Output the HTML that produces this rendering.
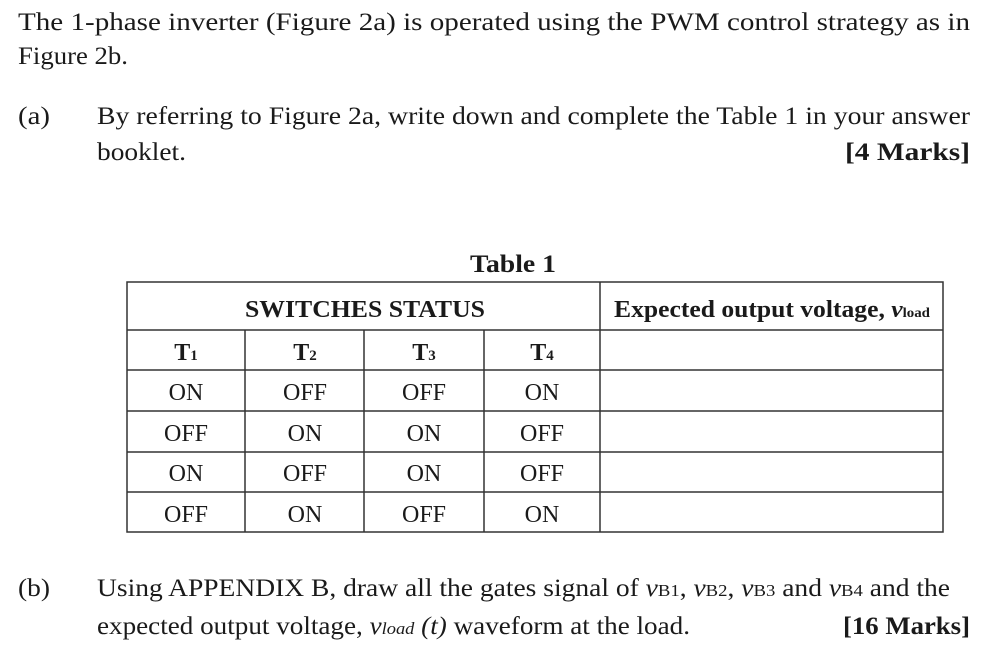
<!DOCTYPE html>
<html><head><meta charset="utf-8"><style>
html,body{margin:0;padding:0;background:#fff;}
svg{display:block;}
text{font-family:"Liberation Serif",serif;fill:#1a1a1a;}
.b{font-weight:bold;}
</style></head><body>
<svg width="982" height="658" viewBox="0 0 982 658" xmlns="http://www.w3.org/2000/svg">
<g font-size="25">
<text x="18" y="30" textLength="952" lengthAdjust="spacingAndGlyphs">The 1-phase inverter (Figure 2a) is operated using the PWM control strategy as in</text>
<text x="18" y="64" textLength="110" lengthAdjust="spacingAndGlyphs">Figure 2b.</text>
<text x="18" y="124" textLength="32" lengthAdjust="spacingAndGlyphs">(a)</text>
<text x="97" y="124" textLength="873" lengthAdjust="spacingAndGlyphs">By referring to Figure 2a, write down and complete the Table 1 in your answer</text>
<text x="97" y="160" textLength="89" lengthAdjust="spacingAndGlyphs">booklet.</text>
<text class="b" x="845" y="160" textLength="125" lengthAdjust="spacingAndGlyphs">[4 Marks]</text>
<text class="b" x="470" y="272" textLength="86" lengthAdjust="spacingAndGlyphs">Table 1</text>
<text x="18" y="596" textLength="32" lengthAdjust="spacingAndGlyphs">(b)</text>
<text x="97" y="596" textLength="853" lengthAdjust="spacingAndGlyphs">Using APPENDIX B, draw all the gates signal of <tspan font-style="italic">v</tspan><tspan font-size="17">B1</tspan>, <tspan font-style="italic">v</tspan><tspan font-size="17">B2</tspan>, <tspan font-style="italic">v</tspan><tspan font-size="17">B3</tspan> and <tspan font-style="italic">v</tspan><tspan font-size="17">B4</tspan> and the</text>
<text x="97" y="634" textLength="593" lengthAdjust="spacingAndGlyphs">expected output voltage, <tspan font-style="italic">v<tspan font-size="17">load</tspan> (t)</tspan> waveform at the load.</text>
<text class="b" x="843" y="634" textLength="127" lengthAdjust="spacingAndGlyphs">[16 Marks]</text>
</g>
<g stroke="#333" stroke-width="1.5" fill="none">
<rect x="127" y="282" width="816" height="250"/>
<line x1="127" y1="330" x2="943" y2="330"/>
<line x1="127" y1="370" x2="943" y2="370"/>
<line x1="127" y1="411" x2="943" y2="411"/>
<line x1="127" y1="452" x2="943" y2="452"/>
<line x1="127" y1="492" x2="943" y2="492"/>
<line x1="600" y1="282" x2="600" y2="532"/>
<line x1="245" y1="330" x2="245" y2="532"/>
<line x1="364" y1="330" x2="364" y2="532"/>
<line x1="484" y1="330" x2="484" y2="532"/>
</g>
<g font-size="24" text-anchor="middle">
<text class="b" x="365" y="317" textLength="240" lengthAdjust="spacingAndGlyphs">SWITCHES STATUS</text>
<text class="b" x="772" y="317" textLength="316" lengthAdjust="spacingAndGlyphs">Expected output voltage, <tspan font-style="italic">v</tspan><tspan font-size="14">load</tspan></text>
<text class="b" x="186" y="360">T<tspan font-size="15">1</tspan></text>
<text class="b" x="305" y="360">T<tspan font-size="15">2</tspan></text>
<text class="b" x="424" y="360">T<tspan font-size="15">3</tspan></text>
<text class="b" x="542" y="360">T<tspan font-size="15">4</tspan></text>
<text x="186" y="400">ON</text><text x="305" y="400">OFF</text><text x="424" y="400">OFF</text><text x="542" y="400">ON</text>
<text x="186" y="441">OFF</text><text x="305" y="441">ON</text><text x="424" y="441">ON</text><text x="542" y="441">OFF</text>
<text x="186" y="481">ON</text><text x="305" y="481">OFF</text><text x="424" y="481">ON</text><text x="542" y="481">OFF</text>
<text x="186" y="522">OFF</text><text x="305" y="522">ON</text><text x="424" y="522">OFF</text><text x="542" y="522">ON</text>
</g>
</svg>
</body></html>
